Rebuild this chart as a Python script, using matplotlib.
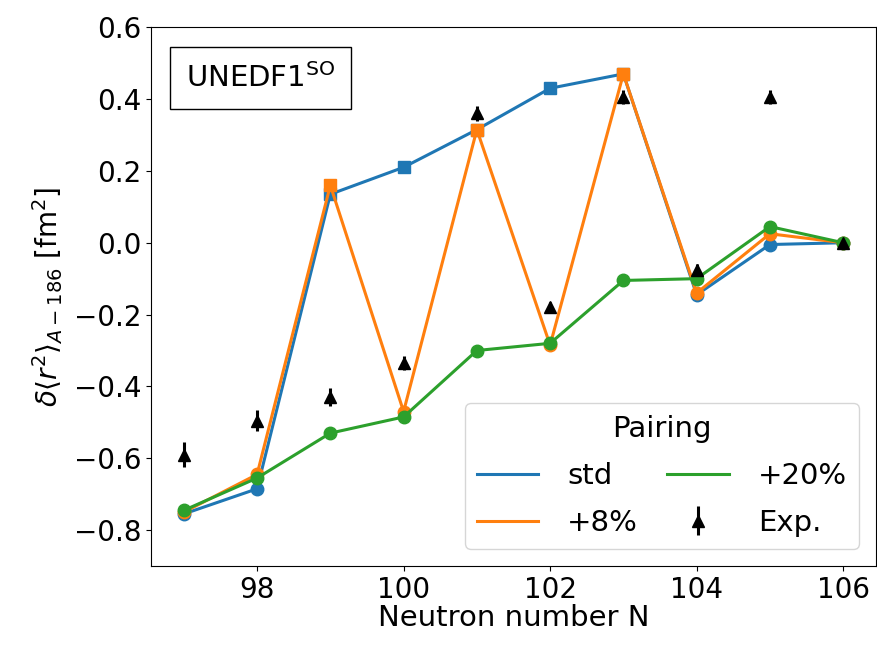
import matplotlib
matplotlib.use('Agg')
import matplotlib.pyplot as plt
import numpy as np

# neutronantal
N = [97, 98, 99, 100, 101, 102, 103, 104, 105, 106]

# beräknade värden för olika pairing-styrkor
std_vals = [-0.755, -0.685, 0.135, 0.21, 0.315, 0.43, 0.47, -0.145, -0.005, 0.0]
p8_vals = [-0.75, -0.645, 0.16, -0.47, 0.315, -0.285, 0.47, -0.14, 0.025, 0.0]
p20_vals = [-0.745, -0.655, -0.53, -0.485, -0.30, -0.28, -0.105, -0.10, 0.045, 0.0]

# markörer: 's' = deformerat tillstånd, 'o' = övriga
std_marks = ['o', 'o', 's', 's', 's', 's', 's', 'o', 'o', 'o']
p8_marks = ['o', 'o', 's', 'o', 's', 'o', 's', 'o', 'o', 'o']
p20_marks = ['o'] * 10

# experiment
exp_vals = [-0.59, -0.495, -0.43, -0.335, 0.36, -0.18, 0.405, -0.075, 0.405, 0.0]
exp_err = [0.035, 0.03, 0.025, 0.02, 0.02, 0.015, 0.02, 0.015, 0.02, 0.0]

plt.rcParams['font.size'] = 20

fig = plt.figure(figsize=(8.77, 6.48), dpi=100)
ax = fig.add_axes([0.172, 0.1265, 0.827, 0.8315])

series = [
    (std_vals, std_marks, 'tab:blue', 'std'),
    (p8_vals, p8_marks, 'tab:orange', '+8%'),
    (p20_vals, p20_marks, 'tab:green', '+20%'),
]

for vals, marks, col, lab in series:
    ax.plot(N, vals, color=col, lw=2.2, label=lab)
    for x, y, m in zip(N, vals, marks):
        ax.plot(x, y, marker=m, color=col, ms=9)

ax.errorbar(N, exp_vals, yerr=exp_err, fmt='^', color='black', ms=8,
            elinewidth=2.2, capsize=0, label='Exp.', zorder=5)

ax.set_xlim(96.55, 106.45)
ax.set_ylim(-0.9, 0.6)
ax.set_xticks([98, 100, 102, 104, 106])
ax.set_yticks(np.arange(-0.8, 0.61, 0.2))
ax.tick_params(labelsize=20)

ax.set_xlabel('Neutron number N', fontsize=21, labelpad=0)
ax.set_ylabel(r'$\delta\langle r^2\rangle_{A-186}$ [fm$^2$]', fontsize=20, labelpad=6)

ax.text(0.048, 0.933, r'UNEDF1$^{\rm SO}$', transform=ax.transAxes, fontsize=21,
        va='top', ha='left',
        bbox=dict(boxstyle='square,pad=0.55', facecolor='white', edgecolor='black'))

leg = ax.legend(loc='lower right', ncol=2, title='Pairing', fontsize=21,
                title_fontsize=21, handlelength=2.1, columnspacing=1.0,
                handletextpad=1.0, labelspacing=0.65, borderaxespad=0.6)

fig.savefig('out.png', dpi=100)
